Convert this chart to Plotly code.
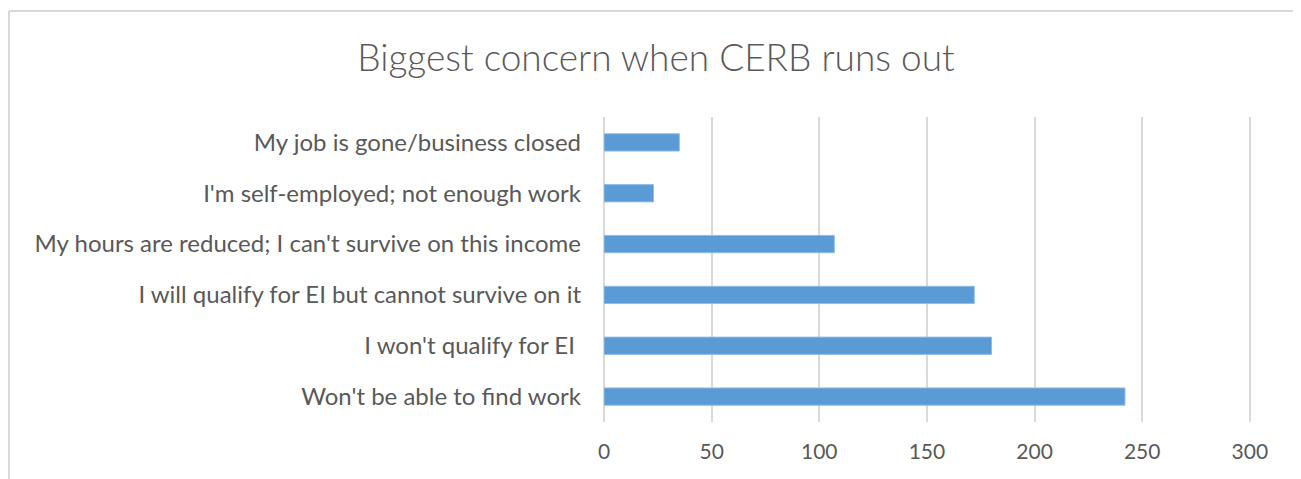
import plotly.graph_objects as go

categories = [
    "Won't be able to find work",
    "I won't qualify for EI ",
    "I will qualify for EI but cannot survive on it",
    "My hours are reduced; I can't survive on this income",
    "I'm self-employed; not enough work",
    "My job is gone/business closed",
]
values = [242, 180, 172, 107, 23, 35]
x_ticks = [0, 50, 100, 150, 200, 250, 300]

TEXT = "#595959"
GRID = "#d9d9d9"
BAR = "#5b9bd5"

# page body has an 8px margin; figure is offset by (8, 8)
W, H = 1293, 471
L, T, PW, PH = 596, 109, 648, 305
XMAX = 301

fig = go.Figure(go.Bar(
    y=categories, x=values, orientation="h",
    marker=dict(color=BAR, line=dict(color="#8fbde6", width=1)),
    width=0.34,
))

bx0 = (1 - L) / PW
bx1 = (1299 - 8 - L) / PW
by1 = 1 + (T - 3) / PH

fig.update_layout(
    width=W, height=H,
    margin=dict(l=L, r=W - L - PW, t=T, b=H - T - PH),
    paper_bgcolor="white", plot_bgcolor="white",
    showlegend=False,
    title=dict(
        text="Biggest concern when CERB runs out",
        x=648 / W, xanchor="center", y=1 - 50 / H, yanchor="middle",
        font=dict(family="Lato", size=37, color=TEXT, weight=300),
    ),
    font=dict(family="Lato", color=TEXT),
    xaxis=dict(
        range=[0, XMAX], tickvals=x_ticks, showgrid=True, gridcolor=GRID,
        gridwidth=1.5, zeroline=True, zerolinecolor=GRID, zerolinewidth=1.5,
        showline=False,
        tickfont=dict(size=21, color=TEXT), ticklabelstandoff=15,
    ),
    yaxis=dict(
        categoryorder="array", categoryarray=categories,
        showgrid=False, zeroline=False, showline=False,
        tickfont=dict(size=24, color=TEXT), ticklabelstandoff=22,
    ),
    shapes=[
        dict(type="line", xref="paper", yref="paper", x0=bx0, x1=bx0,
             y0=by1, y1=-1, line=dict(color=GRID, width=2)),
        dict(type="line", xref="paper", yref="paper", x0=bx0, x1=bx1,
             y0=by1, y1=by1, line=dict(color=GRID, width=2)),
        dict(type="line", xref="paper", yref="paper", x0=bx1, x1=bx1,
             y0=by1, y1=-1, line=dict(color=GRID, width=2)),
    ],
)

fig.write_html("out.html")
